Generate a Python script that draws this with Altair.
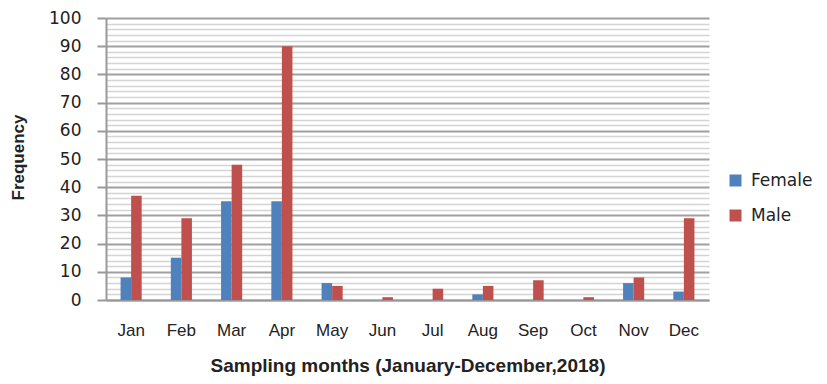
import altair as alt
import pandas as pd

months = ["Jan", "Feb", "Mar", "Apr", "May", "Jun", "Jul", "Aug", "Sep", "Oct", "Nov", "Dec"]
female = [8, 15, 35, 35, 6, 0, 0, 2, 0, 0, 6, 3]
male = [37, 29, 48, 90, 5, 1, 4, 5, 7, 1, 8, 29]
series = ["Female", "Male"]
colors = ["#4F81BD", "#C0504D"]
y_ticks = list(range(0, 101, 2))

rows = []
for i, m in enumerate(months):
    rows.append({"month": m, "sex": "Female", "value": female[i]})
    rows.append({"month": m, "sex": "Male", "value": male[i]})
df = pd.DataFrame(rows)

major = "datum.value % 10 === 0"

chart = alt.Chart(df).mark_bar().encode(
    x=alt.X(
        "month:N",
        sort=months,
        scale=alt.Scale(paddingInner=0.58, paddingOuter=0.29),
        axis=alt.Axis(
            title="Sampling months (January-December,2018)",
            labelAngle=0,
            ticks=False,
            grid=False,
            domainColor="#999999",
            domainWidth=2,
            labelFont="Liberation Sans",
            labelFontSize=17,
            labelColor="#222222",
            labelPadding=22,
            titleFont="Liberation Sans",
            titleFontWeight="bold",
            titleFontSize=19,
            titleColor="#222222",
            titleBaseline="alphabetic",
            titleY=71,
        ),
    ),
    xOffset=alt.XOffset("sex:N", sort=series),
    y=alt.Y(
        "value:Q",
        scale=alt.Scale(domain=[0, 100], nice=False),
        axis=alt.Axis(
            values=y_ticks,
            labelExpr="datum.value % 10 === 0 ? datum.label : ''",
            grid=True,
            gridColor={"condition": {"test": major, "value": "#a0a0a0"}, "value": "#d4d4d4"},
            gridWidth={"condition": {"test": major, "value": 2}, "value": 1.5},
            tickColor="#999999",
            tickSize=9,
            tickWidth=2,
            tickOpacity={"condition": {"test": major, "value": 1}, "value": 0},
            domainColor="#999999",
            domainWidth=2,
            labelFont="DejaVu Sans",
            labelFontSize=17,
            labelColor="#222222",
            labelPadding=16,
            title="Frequency",
            titleFont="Liberation Sans",
            titleFontWeight="bold",
            titleFontSize=17,
            titleColor="#222222",
            titleBaseline="alphabetic",
            titleX=-83,
            titleY=139,
        ),
    ),
    color=alt.Color(
        "sex:N",
        scale=alt.Scale(domain=series, range=colors),
        legend=alt.Legend(
            title=None,
            orient="none",
            legendX=621,
            legendY=154,
            symbolType="square",
            symbolSize=144,
            symbolStrokeWidth=0,
            labelFont="DejaVu Sans",
            labelFontSize=17,
            labelColor="#222222",
            labelOffset=7,
            rowPadding=17,
        ),
    ),
).properties(
    width=603,
    height=282,
    autosize=alt.AutoSizeParams(type="none"),
    padding={"left": 98, "top": 10, "right": 110, "bottom": 76},
).configure_view(stroke=None)

chart.save("out.html", embed_options={"renderer": "svg", "actions": False})
